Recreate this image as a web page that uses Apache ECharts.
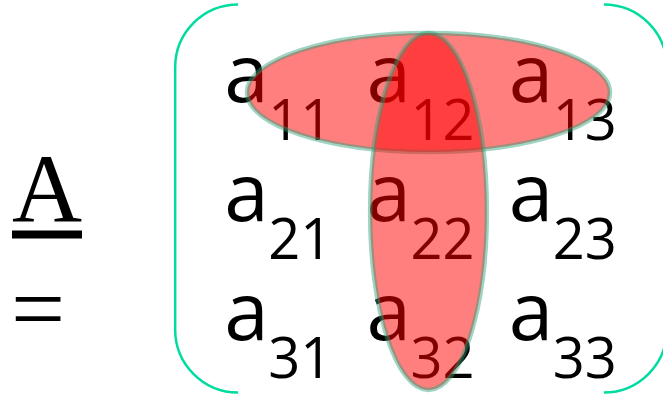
<!DOCTYPE html>
<html>
<head>
<meta charset="utf-8">
<style>
  html, body { margin: 0; padding: 0; background: #fff; }
  #chart { width: 663px; height: 397px; }
</style>
<script src="https://cdn.jsdelivr.net/npm/echarts@6/dist/echarts.min.js"></script>
</head>
<body>
<div id="chart"></div>
<script>
// matrix layout
const cols = ['1', '2', '3']
const rows = ['1', '2', '3']
const subscripts = [
  ['11', '12', '13'],
  ['21', '22', '23'],
  ['31', '32', '33']
]
// highlighted row / column (the "T")
const markRow = '1'
const markCol = '2'

const entryFont = '"Open Sans", "Noto Sans", sans-serif'
const mathFont = '"Liberation Serif", "DejaVu Serif", serif'

const entries = []
rows.forEach((r, ri) => {
  cols.forEach((c, ci) => {
    entries.push([ci, ri, subscripts[ri][ci]])
  })
})

function renderEntry(params, api) {
  const p = api.coord([api.value(0), api.value(1)])
  const sub = entries[params.dataIndex][2]
  return {
    type: 'group',
    children: [
      {
        type: 'text', x: p[0] - 56, y: p[1] - 20,
        style: { text: 'a', fontSize: 80, fontFamily: entryFont, fill: '#000', align: 'left', verticalAlign: 'middle' }
      },
      {
        type: 'text', x: p[0] - 12, y: p[1] + 25,
        style: { text: sub, fontSize: 56, fontFamily: entryFont, fill: '#000', align: 'left', verticalAlign: 'middle' }
      }
    ]
  }
}

const ellipseStyle = {
  fill: 'rgba(255,0,0,0.5)',
  stroke: 'rgba(40,160,120,0.45)',
  lineWidth: 4.5
}

function renderMarks(params, api) {
  const size = api.size([1, 1])
  const rowP = api.coord([cols.indexOf(markCol), rows.indexOf(markRow)])
  const midP = api.coord([cols.indexOf(markCol), 1])
  return {
    type: 'group',
    children: [
      {
        type: 'ellipse',
        shape: { cx: rowP[0] + 6, cy: rowP[1] - 7, rx: size[0] * 1.275, ry: size[1] * 0.5 },
        style: ellipseStyle
      },
      {
        type: 'ellipse',
        shape: { cx: midP[0] + 6, cy: midP[1] - 7, rx: size[0] * 0.41, ry: size[1] * 1.5 },
        style: ellipseStyle
      }
    ]
  }
}

function renderFrame(params, api) {
  const first = api.coord([0, 0])
  const last = api.coord([cols.length - 1, rows.length - 1])
  const mid = api.coord([0, 1])
  const top = first[1] - 95
  const bottom = last[1] + 55
  const lx = first[0] - 105
  const rx = last[0] + 102
  const r = 63
  const left = 'M' + (lx + r) + ',' + top +
    ' A' + r + ',' + r + ' 0 0 0 ' + lx + ',' + (top + r) +
    ' L' + lx + ',' + (bottom - r) +
    ' A' + r + ',' + r + ' 0 0 0 ' + (lx + r) + ',' + bottom
  const right = 'M' + (rx - r) + ',' + top +
    ' A' + r + ',' + r + ' 0 0 1 ' + rx + ',' + (top + r) +
    ' L' + rx + ',' + (bottom - r) +
    ' A' + r + ',' + r + ' 0 0 1 ' + (rx - r) + ',' + bottom
  const bracket = { fill: null, stroke: '#00DCA0', lineWidth: 2.5 }
  return {
    type: 'group',
    children: [
      { type: 'path', shape: { pathData: left }, style: bracket },
      { type: 'path', shape: { pathData: right }, style: bracket },
      {
        type: 'text', x: 12, y: mid[1] - 23,
        style: { text: 'A', fontSize: 97, fontFamily: mathFont, fill: '#000', align: 'left', verticalAlign: 'middle' }
      },
      { type: 'rect', shape: { x: 12, y: mid[1] + 12, width: 70, height: 8 }, style: { fill: '#000' } },
      {
        type: 'text', x: 11, y: mid[1] + 97,
        style: { text: '=', fontSize: 96, fontFamily: mathFont, fill: '#000', align: 'left', verticalAlign: 'middle' }
      }
    ]
  }
}

const chart = echarts.init(document.getElementById('chart'))
chart.setOption({
  animation: false,
  grid: { left: 209, top: 40, width: 427, height: 360 },
  xAxis: { type: 'category', data: cols, show: false },
  yAxis: { type: 'category', data: rows, inverse: true, show: false },
  series: [
    {
      type: 'custom', silent: true, z: 1,
      renderItem: renderFrame,
      data: [[0, 0]]
    },
    {
      type: 'custom', silent: true, z: 2,
      renderItem: renderEntry,
      data: entries.map(e => [e[0], e[1]])
    },
    {
      type: 'custom', silent: true, z: 3,
      renderItem: renderMarks,
      data: [[0, 0]]
    }
  ]
})
</script>
</body>
</html>
